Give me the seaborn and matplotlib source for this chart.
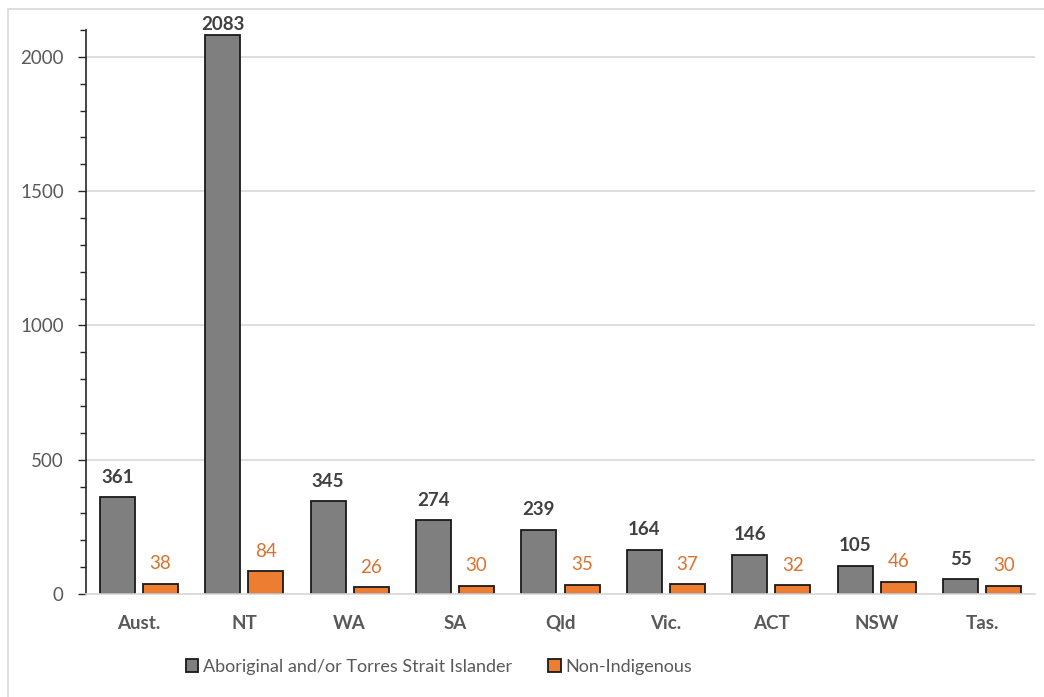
import matplotlib
matplotlib.use("Agg")
import matplotlib.pyplot as plt
from matplotlib.patches import Rectangle
from matplotlib.ticker import MultipleLocator
import pandas as pd
import seaborn as sns

# Rates by jurisdiction
jurisdictions = ["Aust.", "NT", "WA", "SA", "Qld", "Vic.", "ACT", "NSW", "Tas."]
indigenous = [361, 2083, 345, 274, 239, 164, 146, 105, 55]
non_indigenous = [38, 84, 26, 30, 35, 37, 32, 46, 30]
series_names = ["Aboriginal and/or Torres Strait Islander", "Non-Indigenous"]
series_colors = ["#7F7F7F", "#ED7D31"]
label_colors = ["#404040", "#D9722E"]

df = pd.DataFrame({
    "Jurisdiction": jurisdictions * 2,
    "Rate": indigenous + non_indigenous,
    "Group": [series_names[0]] * len(jurisdictions) + [series_names[1]] * len(jurisdictions),
})

sns.set_theme(style="white")
plt.rcParams["font.family"] = ["Lato", "DejaVu Sans"]

W, H = 1044, 697
fig = plt.figure(figsize=(W / 100, H / 100), dpi=100)
ax = fig.add_axes([86 / W, 1 - 594 / H, (1035 - 86) / W, (594 - 30) / H])

# outer chart frame
fig.patches.append(Rectangle((8 / W, -0.05), 1.1, 1 - 9 / H + 0.05,
                             transform=fig.transFigure, fill=False,
                             edgecolor="#D9D9D9", linewidth=1.2, zorder=0))

sns.barplot(data=df, x="Jurisdiction", y="Rate", hue="Group",
            palette=series_colors, saturation=1, width=0.816, gap=0.186,
            edgecolor="#1A1A1A", linewidth=1.3, ax=ax, legend=True)

ax.set_ylim(0, 2100)

# value labels above each bar; kept just above the plot area when a bar is tall
top_px = ax.transAxes.transform((0, 1))[1]
for cont, col, wt in zip(ax.containers, label_colors, ["bold", "normal"]):
    for patch, val in zip(cont.patches, cont.datavalues):
        xc = patch.get_x() + patch.get_width() / 2
        bar_px = ax.transData.transform((xc, val))[1]
        y_px = min(bar_px + 20, top_px + 6)
        y_data = ax.transData.inverted().transform((0, y_px))[1]
        ax.text(xc, y_data, f"{val:.0f}", ha="center", va="center",
                color=col, fontsize=13.5, fontweight=wt, clip_on=False)

ax.yaxis.set_major_locator(MultipleLocator(500))
ax.yaxis.set_minor_locator(MultipleLocator(100))
ax.set_yticks([0, 500, 1000, 1500, 2000])
ax.tick_params(axis="y", which="major", direction="out", length=6, width=1,
               color="#262626", labelsize=13.5, labelcolor="#595959", pad=10, left=True)
ax.tick_params(axis="y", which="minor", direction="out", length=4.5, width=1,
               color="#262626", left=True)
ax.tick_params(axis="x", length=0, pad=15, labelsize=13.5, labelcolor="#595959")
for lbl in ax.get_xticklabels():
    lbl.set_fontweight("bold")

ax.set_xlabel("")
ax.set_ylabel("")
ax.grid(axis="y", which="major", color="#D9D9D9", linewidth=1.2)
ax.set_axisbelow(True)
for side in ["top", "right"]:
    ax.spines[side].set_visible(False)
ax.spines["left"].set_color("#262626")
ax.spines["left"].set_linewidth(1.2)
ax.spines["bottom"].set_color("#D9D9D9")
ax.spines["bottom"].set_linewidth(1.2)

handles, labels = ax.get_legend_handles_labels()
ax.legend_.remove()
for h in handles:
    h.set_edgecolor("#1A1A1A")
fig.legend(handles, labels, loc="center", bbox_to_anchor=(439 / W, 1 - 667 / H),
           ncol=2, frameon=False, fontsize=13, labelcolor="#595959",
           handlelength=0.7, handleheight=0.7, handletextpad=0.25, columnspacing=2.0)

fig.savefig("out.png", dpi=100)
